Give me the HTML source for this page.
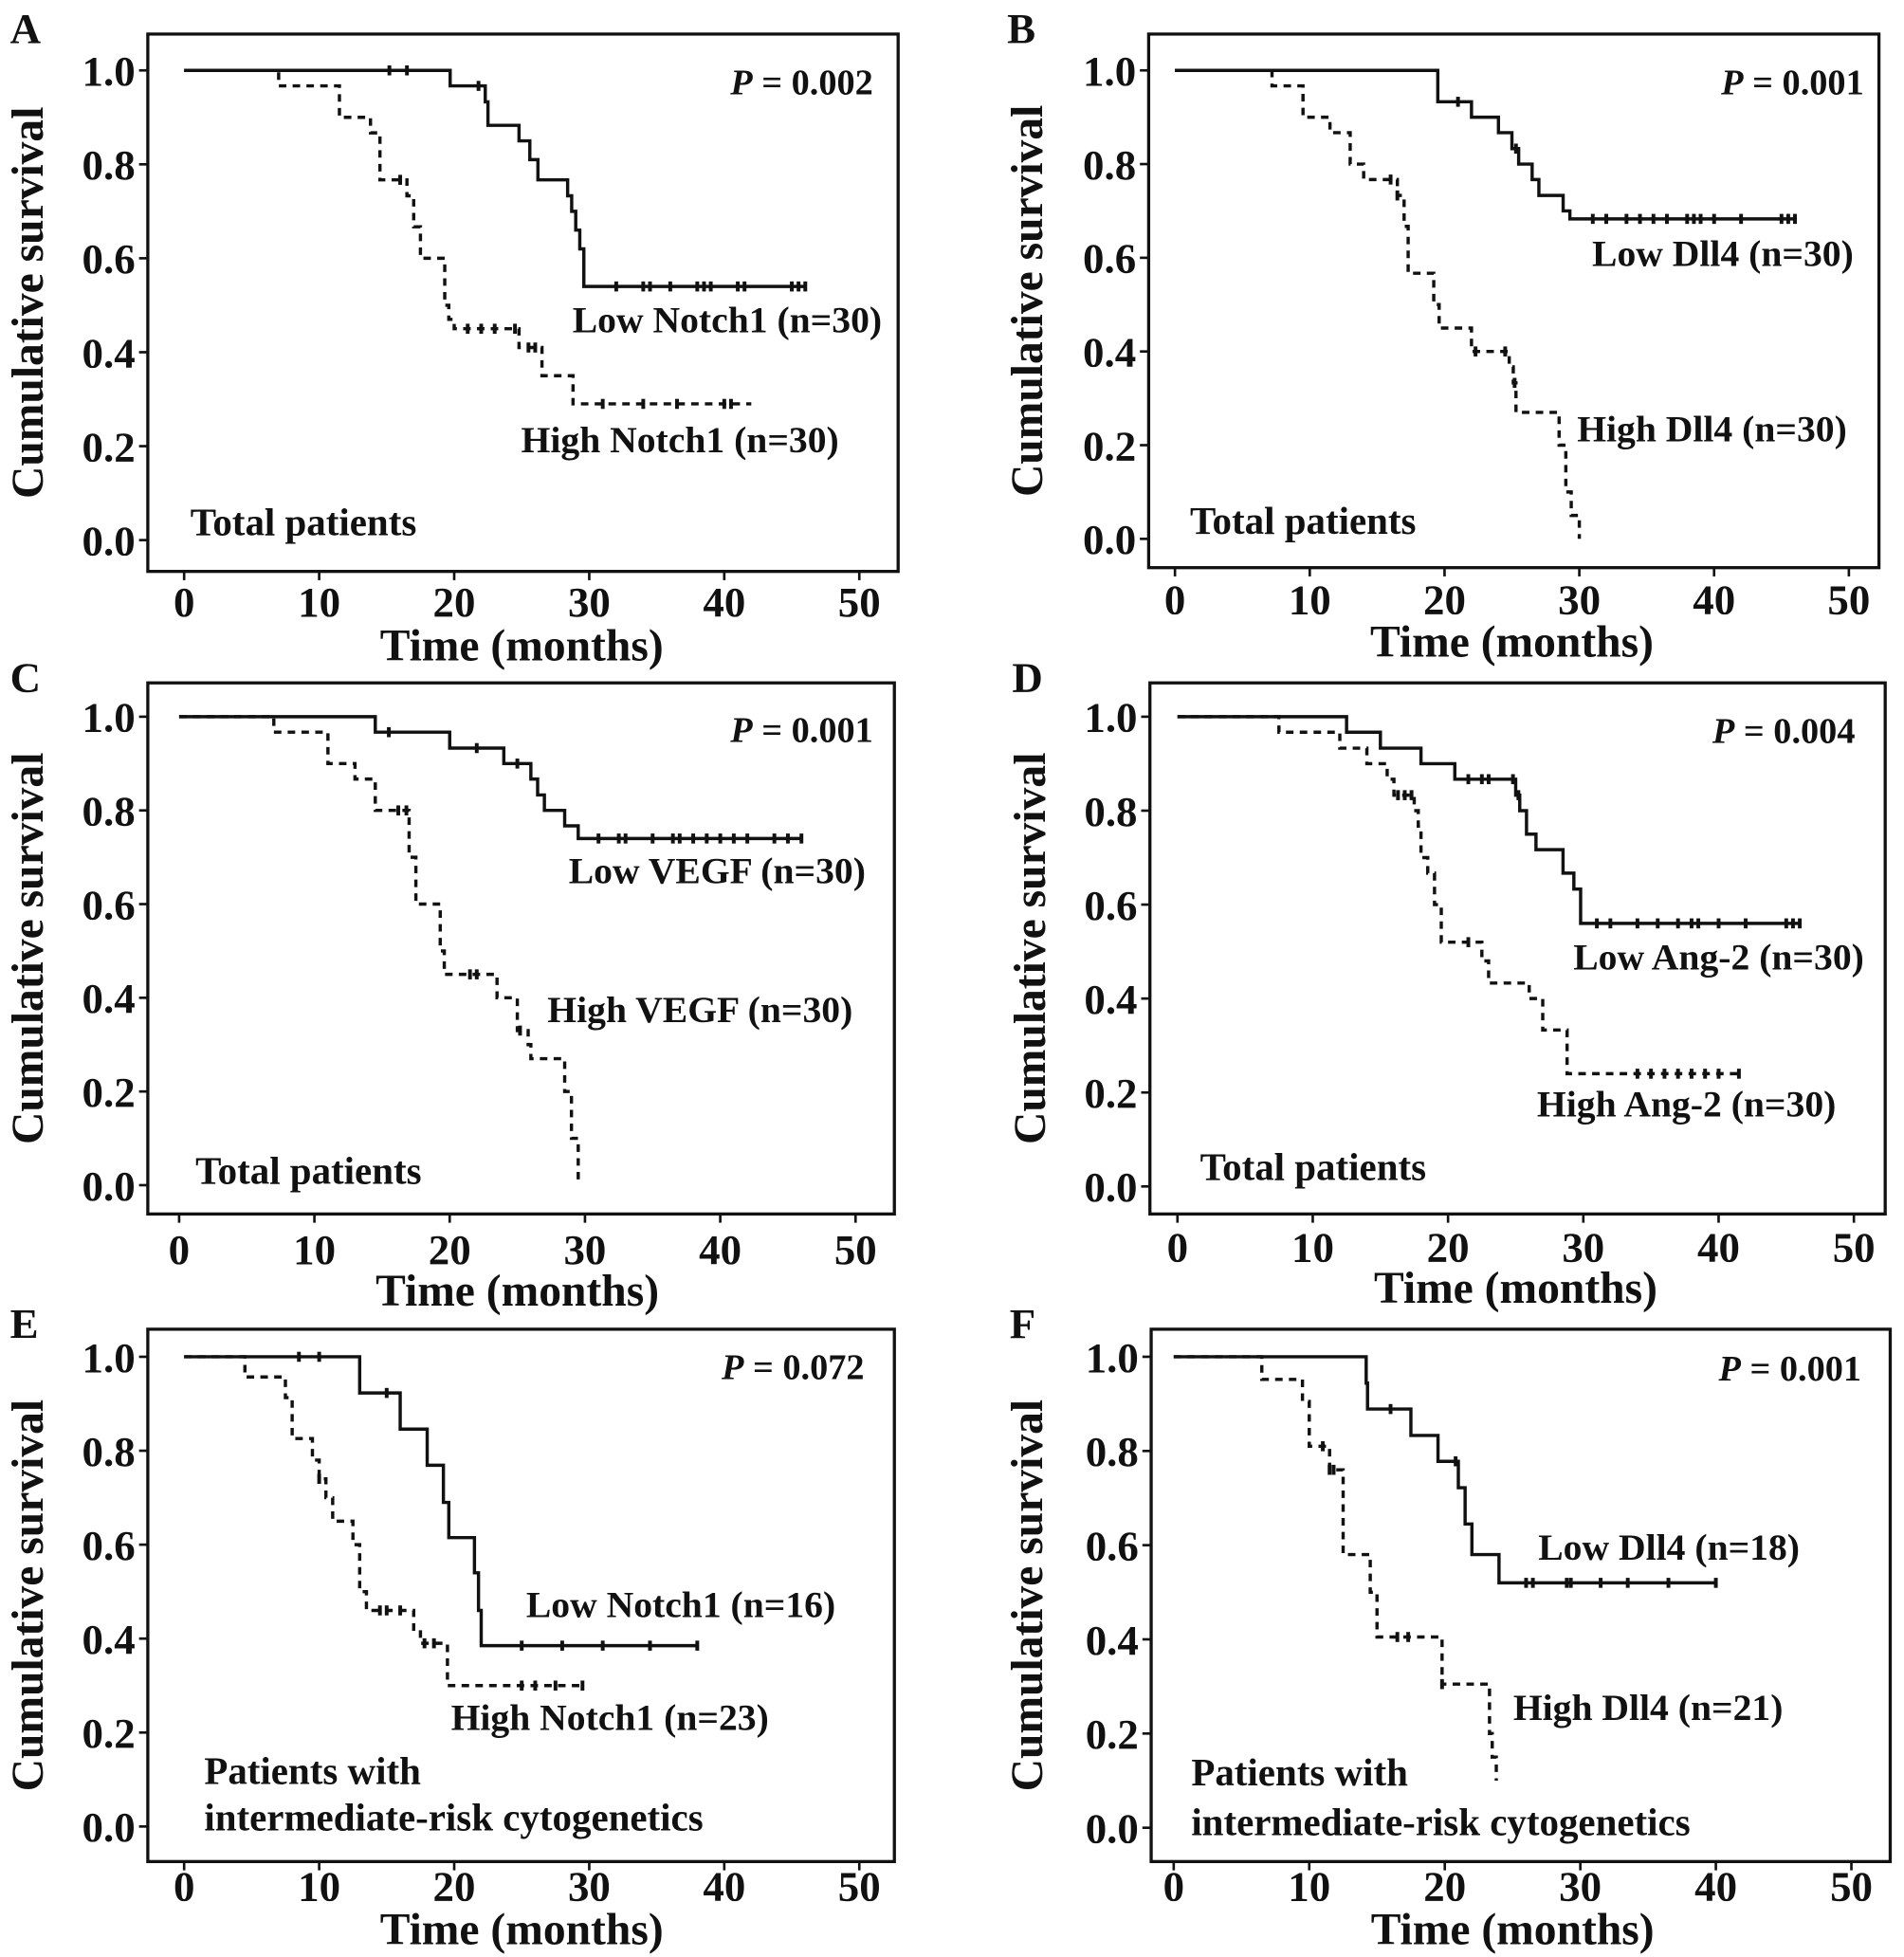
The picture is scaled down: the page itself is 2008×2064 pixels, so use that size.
<!DOCTYPE html>
<html><head><meta charset="utf-8"><style>
html,body{margin:0;padding:0;background:#fff;}
svg{display:block;}
text{font-family:"Liberation Serif",serif;font-weight:bold;fill:#111;}
</style></head>
<body>
<svg id="fig" width="2008" height="2064" viewBox="0 0 1520 1562" xmlns="http://www.w3.org/2000/svg"></svg>
<script>
// ---- Panel data (time in months, survival proportion) ----
const panelLabels = ["A","B","C","D","E","F"];
const pValues = ["0.002","0.001","0.001","0.004","0.072","0.001"];
const lowNames = ["Low Notch1 (n=30)","Low Dll4 (n=30)","Low VEGF (n=30)","Low Ang-2 (n=30)","Low Notch1 (n=16)","Low Dll4 (n=18)"];
const highNames = ["High Notch1 (n=30)","High Dll4 (n=30)","High VEGF (n=30)","High Ang-2 (n=30)","High Notch1 (n=23)","High Dll4 (n=21)"];
const xTicks = [0,10,20,30,40,50];
const yTicks = [0,0.2,0.4,0.6,0.8,1.0];

const lowTimesA=[19.7,22.3,22.5,24.8,25.6,26.2,28.4,28.7,29,29.3,29.6], lowSurvA=[0.967,0.933,0.883,0.85,0.81,0.767,0.733,0.7,0.66,0.62,0.54], lowEndA=46;
const lowCensA=[15.2,16.5,21.8,32,34,34.5,36,38,38.5,39,41,41.5,45,45.5,46];
const highTimesA=[7,11.5,13.8,14.5,16.5,17,17.5,19.3,19.6,20,24.8,26.5,28.8], highSurvA=[0.967,0.9,0.867,0.767,0.733,0.667,0.6,0.5,0.47,0.45,0.41,0.35,0.29], highEndA=42;
const highCensA=[16,21,22,23,24.5,25.5,26,31,34,36.5,40,40.5];

const lowTimesB=[19.5,22,24,25,25.5,26.5,27,28.8,29.3], lowSurvB=[0.933,0.9,0.867,0.833,0.8,0.767,0.733,0.7,0.683], lowEndB=46;
const lowCensB=[21,25.3,31,32,33.5,34.5,35.5,36.5,38,38.5,39,40,42,45,45.5,46];
const highTimesB=[7.2,9.5,11.5,13,14,16.5,17,17.3,19.2,19.6,22,24.8,25.1,25.3,28.5,29,29.4,30], highSurvB=[0.967,0.9,0.867,0.8,0.767,0.733,0.667,0.567,0.5,0.45,0.4,0.367,0.333,0.27,0.2,0.1,0.05,0.0], highEndB=30;
const highCensB=[16,16.5,22.3,24.5,25.2];

const lowTimesC=[14.5,20,24,26,26.5,27,28.5,29.5], lowSurvC=[0.967,0.933,0.9,0.867,0.833,0.8,0.767,0.74], lowEndC=46;
const lowCensC=[15.5,22,25,31,32.5,33,35,36.5,37,38,39,40,41,42,44,45,46];
const highTimesC=[7,11,13,14.5,17,17.5,19.3,19.6,23.5,25,25.8,26,28.5,29,29.5], highSurvC=[0.967,0.9,0.867,0.8,0.7,0.6,0.5,0.45,0.4,0.33,0.3,0.27,0.2,0.1,0.0], highEndC=29.5;
const highCensC=[16.2,16.8,21.5,22,25.2];

const lowTimesD=[12.5,15,18,20.5,25,25.3,25.8,26.5,28.5,29.3,29.8], lowSurvD=[0.967,0.933,0.9,0.867,0.833,0.8,0.75,0.717,0.667,0.633,0.56], lowEndD=46;
const lowCensD=[21.5,22.5,23,24.8,25.2,31,32,34,35.5,37,38,38.5,40,42,45,45.5,46];
const highTimesD=[7.5,12,14,15.5,16,17.5,17.8,18,18.5,19,19.5,22.5,23,26,27,28.8], highSurvD=[0.967,0.933,0.9,0.867,0.833,0.8,0.767,0.7,0.667,0.6,0.52,0.48,0.433,0.4,0.333,0.24], highEndD=41.5;
const highCensD=[16.3,16.8,17.3,21.5,34,35,36,37,38,39,40,41.5];

const lowTimesE=[13,16,18,19.2,19.6,21.5,21.8,22], lowSurvE=[0.923,0.846,0.769,0.69,0.615,0.54,0.46,0.385], lowEndE=38;
const lowCensE=[8.5,10,15,25,28,31,34.5,38];
const highTimesE=[4.5,7.5,8,9.5,10,10.5,11,12.5,13,13.5,17,17.5,19.5], highSurvE=[0.957,0.913,0.826,0.78,0.74,0.7,0.65,0.6,0.5,0.46,0.42,0.39,0.3], highEndE=29.5;
const highCensE=[10,14.5,15,16,17.8,18.5,25,26,27.5,29.5];

const lowTimesF=[14.2,14.3,17.5,19.5,21,21.5,22,24], lowSurvF=[0.944,0.889,0.833,0.778,0.722,0.645,0.58,0.52], lowEndF=40;
const lowCensF=[16,20.8,26,26.5,29,29.3,31.5,33.5,36.5,40];
const highTimesF=[6.5,9.5,10,11.5,12.5,14.5,15,19.8,23.3,23.5,23.8], highSurvF=[0.952,0.905,0.81,0.76,0.58,0.5,0.405,0.305,0.2,0.15,0.1], highEndF=23.8;
const highCensF=[11,11.5,11.8,16.5,17.3,19.8];

const lows=[[lowTimesA,lowSurvA,lowEndA,lowCensA],[lowTimesB,lowSurvB,lowEndB,lowCensB],[lowTimesC,lowSurvC,lowEndC,lowCensC],[lowTimesD,lowSurvD,lowEndD,lowCensD],[lowTimesE,lowSurvE,lowEndE,lowCensE],[lowTimesF,lowSurvF,lowEndF,lowCensF]];
const highs=[[highTimesA,highSurvA,highEndA,highCensA],[highTimesB,highSurvB,highEndB,highCensB],[highTimesC,highSurvC,highEndC,highCensC],[highTimesD,highSurvD,highEndD,highCensD],[highTimesE,highSurvE,highEndE,highCensE],[highTimesF,highSurvF,highEndF,highCensF]];

// ---- layout ----
const layout=[
 {bx:118,br:717,bt:27,bb:456,x0:147,x50:686,y1:56,y0:431,lab:[8,34],yt:22,tl:480,tt:515,
  P:[697,65],lo:[457,255],hi:[416,351],sub:[[152,417]]},
 {bx:917,br:1500,bt:27,bb:453,x0:938,x50:1476,y1:56,y0:430,lab:[804,34],yt:820,tl:478,tt:512,
  P:[1488,65],lo:[1271,202],hi:[1259,342],sub:[[950,416]]},
 {bx:118,br:714,bt:545,bb:969,x0:143,x50:683,y1:572,y0:946,lab:[8,552],yt:22,tl:997,tt:1030,
  P:[697,582],lo:[454,695],hi:[437,806],sub:[[156,935]]},
 {bx:918,br:1505,bt:545,bb:969,x0:940,x50:1480,y1:572,y0:947,lab:[808,552],yt:822,tl:995,tt:1028,
  P:[1481,583],lo:[1256,764],hi:[1227,881],sub:[[958,932]]},
 {bx:118,br:714,bt:1061,bb:1486,x0:147,x50:686,y1:1083,y0:1458,lab:[8,1068],yt:22,tl:1505,tt:1540,
  P:[690,1091],lo:[420,1281],hi:[360,1371],sub:[[163,1414],[163,1451]]},
 {bx:919,br:1509,bt:1061,bb:1486,x0:937,x50:1478,y1:1083,y0:1459,lab:[806,1068],yt:820,tl:1505,tt:1540,
  P:[1486,1092],lo:[1228,1235],hi:[1208,1363],sub:[[951,1415],[951,1455]]}
];
const subTexts=[["Total patients"],["Total patients"],["Total patients"],["Total patients"],["Patients with","intermediate-risk cytogenetics"],["Patients with","intermediate-risk cytogenetics"]];

const NS="http://www.w3.org/2000/svg";
const svg=document.getElementById('fig');
function mk(tag,attrs,parent,txt){const e=document.createElementNS(NS,tag);for(const k in attrs)e.setAttribute(k,attrs[k]);if(txt!==undefined)e.textContent=txt;parent.appendChild(e);return e;}

layout.forEach((L,i)=>{
  const g=mk('g',{},svg);
  
  
  const sx=t=>L.x0+(L.x50-L.x0)*t/50;
  const sy=v=>L.y0+(L.y1-L.y0)*v;
  const lab=mk('text',{x:L.lab[0],y:L.lab[1],'font-size':34},g,panelLabels[i]);
  
  const box=mk('rect',{x:L.bx,y:L.bt,width:L.br-L.bx,height:L.bb-L.bt,fill:'none',stroke:'#111','stroke-width':2.5},g);
  
  yTicks.forEach(v=>{
    mk('line',{x1:L.bx-7,x2:L.bx,y1:sy(v),y2:sy(v),stroke:'#111','stroke-width':2},g);
    const t=mk('text',{x:L.bx-10,y:sy(v)+12,'font-size':34,'text-anchor':'end'},g,v.toFixed(1));
    
  });
  xTicks.forEach(v=>{
    mk('line',{x1:sx(v),x2:sx(v),y1:L.bb,y2:L.bb+7,stroke:'#111','stroke-width':2},g);
    const t=mk('text',{x:sx(v),y:L.tl+12,'font-size':34,'text-anchor':'middle'},g,String(v));
    
  });
  const xt=mk('text',{x:(L.x0+L.x50)/2,y:L.tt+12,'font-size':36,'text-anchor':'middle'},g,'Time (months)');
  
  const cy=(L.bt+L.bb)/2;
  const yt=mk('text',{x:L.yt,y:cy,'font-size':36,'text-anchor':'middle',transform:`rotate(-90 ${L.yt} ${cy}) translate(0 12)`},g,'Cumulative survival');
  
  const pt=mk('text',{x:L.P[0],y:L.P[1]+10,'font-size':29,'text-anchor':'end'},g);
  mk('tspan',{'font-style':'italic'},pt,'P');
  mk('tspan',{},pt,' = '+pValues[i]);
  
  const lo=mk('text',{x:L.lo[0],y:L.lo[1]+10,'font-size':30},g,lowNames[i]);
  
  const hi=mk('text',{x:L.hi[0],y:L.hi[1]+10,'font-size':30},g,highNames[i]);
  
  subTexts[i].forEach((s,k)=>{
    const st=mk('text',{x:L.sub[k][0],y:L.sub[k][1]+10,'font-size':31},g,s);
    
  });
  function curve(ser,dash,name){
    const [ts,vs,end,cens]=ser;
    let d=`M${sx(0)},${sy(1)}`;let cur=1;
    ts.forEach((t,k)=>{d+=` L${sx(t)},${sy(cur)} L${sx(t)},${sy(vs[k])}`;cur=vs[k];});
    d+=` L${sx(end)},${sy(cur)}`;
    const p=mk('path',{d:d,fill:'none',stroke:'#111','stroke-width':2.6,'stroke-dasharray':dash?'6 5':'none'},g);
    
    cens.forEach(c=>{
      let v=1;ts.forEach((t,k)=>{if(t<=c)v=vs[k];});
      const m=mk('line',{x1:sx(c),x2:sx(c),y1:sy(v)-4,y2:sy(v)+4,stroke:'#111','stroke-width':3},g);
      
    });
  }
  curve(lows[i],false,'low');
  curve(highs[i],true,'high');
});
</script>
</body></html>
